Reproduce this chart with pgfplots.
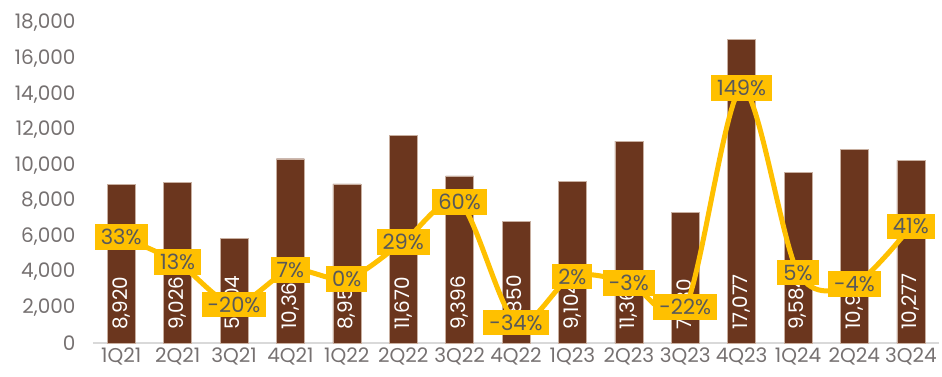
\documentclass[border=0pt]{standalone}
\usepackage{pgfplots}
\pgfplotsset{compat=1.18}
\usepackage{pgfplotstable}
\usepackage{fontspec}
\setmainfont{Poppins}[Scale=1]
\definecolor{barc}{RGB}{107,54,30}
\definecolor{linec}{RGB}{255,192,0}
\definecolor{tickc}{RGB}{118,113,113}
\definecolor{lblc}{RGB}{89,89,89}
\definecolor{basec}{RGB}{217,217,217}

\pgfplotstableread{
x q v p
0 1Q21 8920 33
1 2Q21 9026 13
2 3Q21 5904 -20
3 4Q21 10365 7
4 1Q22 8954 0
5 2Q22 11670 29
6 3Q22 9396 60
7 4Q22 6850 -34
8 1Q23 9104 2
9 2Q23 11360 -3
10 3Q23 7330 -22
11 4Q23 17077 149
12 1Q24 9584 5
13 2Q24 10910 -4
14 3Q24 10277 41
}\data

\begin{document}
\begin{tikzpicture}[x=1pt,y=1pt]
\useasboundingbox (-93,-33) rectangle (849,343);
\begin{axis}[
  at={(0,0)}, anchor=south west,
  scale only axis, width=846pt, height=320pt,
  xmin=-0.5, xmax=14.5, ymin=0, ymax=18000,
  axis y line*=left, axis x line*=bottom,
  y axis line style={draw=none},
  x axis line style={basec, line width=1.5pt, -},
  xtick=data, xticklabels={1Q21,2Q21,3Q21,4Q21,1Q22,2Q22,3Q22,4Q22,1Q23,2Q23,3Q23,4Q23,1Q24,2Q24,3Q24},
  ytick={0,2000,...,18000},
  scaled y ticks=false,
  major tick length=0pt,
  tick label style={font=\fontsize{20}{24}\selectfont, text=tickc},
  xticklabel style={yshift=-1pt},
  yticklabel style={xshift=-14pt, /pgf/number format/fixed, /pgf/number format/1000 sep={,}},
  /pgf/number format/.cd, 1000 sep={,}, assume math mode=true,
]
\addplot[ybar, bar width=28pt, fill=barc, draw={rgb,255:red,200;green,175;blue,160}, line width=0.4pt] table[x=x,y=v] {\data};
\addplot[draw=none, mark=none, point meta=explicit,
  nodes near coords,
  every node near coord/.append style={rotate=90, anchor=west, inner xsep=13pt, text=white, font=\fontsize{20}{24}\selectfont}]
  table[x=x, y expr=0, meta=v] {\data};
\end{axis}
\begin{axis}[
  at={(0,0)}, anchor=south west,
  scale only axis, width=846pt, height=320pt,
  xmin=-0.5, xmax=14.5, ymin=-50, ymax=200,
  hide axis,
  /pgf/number format/.cd, assume math mode=true,
]
\addplot[linec, line width=5pt, smooth, tension=0.5, mark=none,
  point meta=explicit,
  nodes near coords={\pgfmathprintnumber{\pgfplotspointmeta}\%},
  every node near coord/.append style={anchor=center, fill=linec, text=lblc, inner xsep=6pt, inner ysep=5pt, font=\fontsize{21}{25}\selectfont}]
  table[x=x, y=p, meta=p] {\data};
\end{axis}
\end{tikzpicture}
\end{document}
